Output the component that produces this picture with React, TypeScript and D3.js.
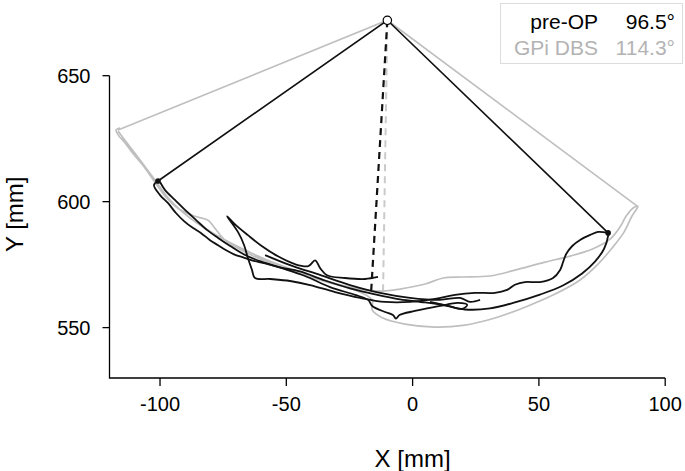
import React from "react";
import * as d3 from "d3";

// ---- data (mm) ----
const pivot: [number, number] = [-10, 672];
const preOpEnds: [number, number][] = [[-100.8, 608.2], [77.4, 587.6]];
const dbsEnds: [number, number][] = [[-116.6, 628.4], [88.8, 598.3]];
const preOpMid: [number, number] = [-16.5, 562.9];
const dbsMid: [number, number] = [-11.7, 564.1];

const xTicks = [-100, -50, 0, 50, 100];
const yTicks = [550, 600, 650];

const legendLabels = ["pre-OP", "GPi DBS"];
const legendAngles = ["96.5°", "114.3°"];

const dbsPath: [number, number][] = [
  [-115.8, 629.2], [-117.4, 628.4], [-116.2, 626.0], [-114.7, 624.4], [-111.1, 619.6],
  [-105.9, 613.3], [-102.0, 607.7], [-98.0, 602.2], [-92.9, 597.4], [-86.2, 594.2],
  [-81.0, 592.6], [-78.3, 589.5], [-74.3, 584.7], [-66.3, 580.0], [-54.5, 574.8],
  [-44.6, 571.3], [-32.7, 567.7], [-22.8, 564.9], [-16.0, 561.0], [-16.0, 557.0],
  [-12.0, 553.9], [-3.0, 551.4], [8.9, 550.2], [20.7, 551.0], [32.6, 553.8],
  [44.5, 558.1], [56.4, 563.3], [66.3, 568.9], [73.4, 575.2], [78.9, 581.5],
  [83.7, 587.9], [86.8, 594.2], [89.2, 598.2], [87.2, 597.4], [84.5, 594.2],
  [82.1, 589.9], [78.2, 585.1], [71.0, 581.1], [62.3, 578.4], [52.4, 576.0],
  [40.5, 572.8], [30.6, 570.5], [19.6, 570.1], [12.1, 569.7], [5.0, 567.3],
  [-5.0, 565.3], [-12.1, 564.5], [-20.8, 565.3], [-32.7, 568.1], [-44.6, 572.0],
  [-55.6, 576.0], [-66.3, 580.8], [-78.3, 587.1], [-88.1, 593.5], [-96.0, 600.6],
  [-102.0, 608.6], [-107.9, 616.5], [-113.9, 624.4], [-116.6, 628.0],
];

const preOpPathA: [number, number][] = [
  [-100.8, 608.2], [-102.4, 606.6], [-100.0, 602.6], [-96.8, 599.4], [-93.7, 595.5],
  [-90.5, 592.3], [-86.9, 589.5], [-83.7, 587.5], [-80.2, 584.7], [-77.0, 582.7],
  [-73.8, 580.7], [-70.7, 579.1], [-67.1, 577.9], [-63.6, 576.7], [-58.4, 575.5],
  [-52.5, 573.9], [-44.6, 572.3], [-34.7, 568.7], [-24.8, 565.6], [-14.9, 563.2],
  [-5.0, 561.2], [4.9, 560.0], [12.8, 558.8], [20.7, 557.2], [30.6, 557.6],
  [40.5, 560.0], [50.4, 563.1], [59.5, 566.7], [67.1, 571.5], [72.2, 576.2],
  [75.8, 581.3], [77.4, 586.4], [77.4, 587.6],
];

const preOpPathB: [number, number][] = [
  [77.4, 587.6], [73.4, 588.0], [70.3, 586.8], [66.3, 584.8], [63.2, 582.4],
  [60.8, 579.2], [59.6, 576.1], [58.4, 572.9], [55.6, 569.7], [50.4, 568.1],
  [44.5, 568.1], [40.5, 567.0], [37.4, 565.0], [32.6, 563.8], [24.7, 563.8],
  [16.8, 563.0], [8.9, 561.4], [-1.0, 560.2], [-10.9, 560.2], [-20.8, 561.8],
  [-30.7, 564.1], [-40.6, 566.9], [-48.5, 568.5], [-56.4, 569.3], [-62.4, 569.7],
  [-63.6, 572.9], [-65.2, 577.6], [-66.7, 582.7], [-69.1, 587.9], [-73.0, 593.5],
  [-73.4, 594.2], [-70.3, 591.0], [-65.2, 586.7], [-59.6, 582.3], [-53.3, 578.3],
  [-46.6, 575.2], [-41.3, 574.4], [-38.6, 576.7], [-36.6, 573.6], [-33.9, 570.8],
  [-26.8, 569.7], [-18.8, 569.3], [-13.7, 570.1],
];

const preOpPathC: [number, number][] = [
  [-100.0, 607.8], [-98.0, 604.6], [-94.0, 600.6], [-90.1, 596.7], [-85.7, 592.7],
  [-81.3, 588.7], [-77.0, 585.6], [-72.2, 582.4], [-66.3, 578.8], [-59.6, 576.1],
  [-51.7, 573.6], [-42.6, 570.5], [-32.7, 566.1], [-22.8, 563.0], [-17.6, 561.0],
  [-16.0, 558.6], [-10.9, 556.2], [-7.8, 555.0], [-6.6, 553.6], [-5.2, 555.0],
  [0.9, 556.6], [10.8, 558.6], [18.0, 559.8], [21.6, 559.0], [19.6, 557.4],
  [14.1, 558.6], [6.9, 560.2],
];

const preOpPathD: [number, number][] = [
  [-58.4, 578.8], [-48.5, 574.8], [-36.7, 570.9], [-24.8, 566.9], [-12.9, 563.8],
  [-1.0, 561.8], [10.8, 561.0], [18.8, 561.8], [22.7, 560.2], [26.7, 561.0],
];

const W = 685;
const H = 471;
const FONT = "'Liberation Sans', Arial, Helvetica, sans-serif";

export default function App() {
  const x = d3.scaleLinear().domain([-120, 100]).range([109.5, 665.2]);
  const y = d3.scaleLinear().domain([530, 650]).range([378, 75.7]);
  const line = d3
    .line<[number, number]>()
    .x((d) => x(d[0]))
    .y((d) => y(d[1]))
    .curve(d3.curveCatmullRom.alpha(0.5));
  const straight = d3
    .line<[number, number]>()
    .x((d) => x(d[0]))
    .y((d) => y(d[1]));

  const black = "#111";
  const gray = "#bfbfbf";

  return (
    <svg
      width={W}
      height={H}
      style={{ position: "absolute", left: 0, top: 0, background: "#fff" }}
      fontFamily={FONT}
    >
      {/* axes */}
      <path
        d={`M${x(-120)},${y(650)}V${y(530)}H${x(100)}`}
        fill="none"
        stroke="#000"
        strokeWidth={1.3}
      />
      {yTicks.map((t) => (
        <g key={"y" + t}>
          <line x1={x(-120) - 7} x2={x(-120)} y1={y(t)} y2={y(t)} stroke="#000" strokeWidth={1.3} />
          <text x={x(-120) - 19} y={y(t)} dy="0.35em" textAnchor="end" fontSize={20}>
            {t}
          </text>
        </g>
      ))}
      {xTicks.map((t) => (
        <g key={"x" + t}>
          <line x1={x(t)} x2={x(t)} y1={y(530)} y2={y(530) + 8} stroke="#000" strokeWidth={1.3} />
          <text x={x(t)} y={411} textAnchor="middle" fontSize={20}>
            {t}
          </text>
        </g>
      ))}
      <text x={x(0)} y={467} textAnchor="middle" fontSize={24}>
        X [mm]
      </text>
      <text transform={`translate(23,${y(595)}) rotate(-90)`} textAnchor="middle" fontSize={24}>
        Y [mm]
      </text>

      {/* GPi DBS (gray) */}
      <path d={straight([dbsEnds[0], pivot, dbsEnds[1]]) || ""} fill="none" stroke={gray} strokeWidth={1.6} />
      <path d={straight([pivot, dbsMid]) || ""} fill="none" stroke="#cacaca" strokeWidth={2} strokeDasharray="7,5" />
      <path d={line(dbsPath) || ""} fill="none" stroke={gray} strokeWidth={1.7} strokeLinejoin="round" />

      {/* pre-OP (black) */}
      {[preOpPathA, preOpPathB, preOpPathC, preOpPathD].map((p, i) => (
        <path key={i} d={line(p) || ""} fill="none" stroke={black} strokeWidth={1.8} strokeLinejoin="round" />
      ))}
      <path d={straight([preOpEnds[0], pivot, preOpEnds[1]]) || ""} fill="none" stroke={black} strokeWidth={1.6} />
      <path d={straight([pivot, preOpMid]) || ""} fill="none" stroke={black} strokeWidth={2.2} strokeDasharray="7,5" />
      {preOpEnds.map((e, i) => (
        <circle key={i} cx={x(e[0])} cy={y(e[1])} r={2.8} fill={black} />
      ))}
      <circle cx={x(pivot[0])} cy={y(pivot[1])} r={4.2} fill="#fff" stroke="#000" strokeWidth={1.2} />

      {/* legend */}
      <rect x={500.5} y={3.5} width={182} height={60} fill="#fff" stroke="#dcdcdc" strokeWidth={1} />
      {legendLabels.map((l, i) => (
        <g key={l} fill={i === 0 ? "#000" : "#b3b3b3"} fontSize={21}>
          <text x={598} y={29 + i * 25.5} textAnchor="end">
            {l}
          </text>
          <text x={675} y={29 + i * 25.5} textAnchor="end">
            {legendAngles[i]}
          </text>
        </g>
      ))}
    </svg>
  );
}
